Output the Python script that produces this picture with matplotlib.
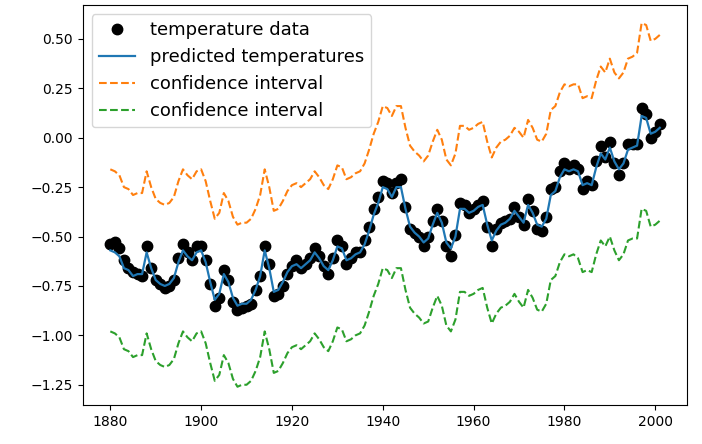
import matplotlib

matplotlib.use("Agg")
import matplotlib.pyplot as plt

years = list(range(1880, 2002))

# observed annual temperatures (black dots)
temperature = [
    -0.54, -0.53, -0.56, -0.62, -0.66, -0.68, -0.69, -0.70, -0.55, -0.66,
    -0.72, -0.74, -0.76, -0.75, -0.72, -0.61, -0.54, -0.58, -0.62, -0.55,
    -0.55, -0.62, -0.74, -0.85, -0.81, -0.67, -0.72, -0.83, -0.87, -0.86,
    -0.85, -0.84, -0.77, -0.70, -0.55, -0.64, -0.80, -0.79, -0.75, -0.69,
    -0.65, -0.62, -0.66, -0.64, -0.61, -0.56, -0.60, -0.65, -0.69, -0.61,
    -0.52, -0.55, -0.64, -0.61, -0.58, -0.58, -0.52, -0.45, -0.36, -0.30,
    -0.22, -0.23, -0.28, -0.23, -0.21, -0.35, -0.46, -0.48, -0.50, -0.55,
    -0.50, -0.42, -0.36, -0.42, -0.55, -0.60, -0.49, -0.33, -0.34, -0.38,
    -0.36, -0.34, -0.32, -0.45, -0.55, -0.46, -0.43, -0.42, -0.41, -0.35,
    -0.40, -0.44, -0.31, -0.37, -0.46, -0.47, -0.40, -0.26, -0.25, -0.17,
    -0.13, -0.16, -0.14, -0.16, -0.26, -0.22, -0.24, -0.12, -0.04, -0.10,
    -0.02, -0.13, -0.19, -0.13, -0.03, -0.03, -0.03, 0.15, 0.12, 0.00,
    0.03, 0.07,
]

# model prediction (blue line)
predicted = [
    -0.57, -0.58, -0.60, -0.66, -0.67, -0.70, -0.69, -0.69, -0.58, -0.66,
    -0.72, -0.74, -0.75, -0.74, -0.71, -0.63, -0.57, -0.60, -0.62, -0.58,
    -0.57, -0.63, -0.73, -0.82, -0.79, -0.69, -0.73, -0.81, -0.85, -0.84,
    -0.84, -0.82, -0.77, -0.70, -0.57, -0.66, -0.78, -0.77, -0.73, -0.68,
    -0.65, -0.64, -0.66, -0.64, -0.62, -0.58, -0.61, -0.65, -0.67, -0.62,
    -0.55, -0.56, -0.62, -0.61, -0.59, -0.58, -0.54, -0.47, -0.39, -0.33,
    -0.25, -0.26, -0.30, -0.25, -0.25, -0.36, -0.45, -0.48, -0.50, -0.53,
    -0.51, -0.44, -0.38, -0.43, -0.53, -0.56, -0.50, -0.36, -0.36, -0.38,
    -0.37, -0.35, -0.34, -0.44, -0.52, -0.47, -0.44, -0.43, -0.41, -0.37,
    -0.40, -0.43, -0.34, -0.38, -0.44, -0.45, -0.41, -0.29, -0.27, -0.20,
    -0.16, -0.17, -0.16, -0.17, -0.24, -0.23, -0.24, -0.15, -0.08, -0.11,
    -0.05, -0.12, -0.16, -0.13, -0.06, -0.05, -0.04, 0.11, 0.10, 0.02,
    0.03, 0.05,
]

# half width of the confidence band around the prediction
ci_halfwidth = [
    0.41, 0.41, 0.41, 0.41, 0.41, 0.41, 0.41, 0.41, 0.41, 0.41,
    0.41, 0.41, 0.41, 0.41, 0.41, 0.41, 0.41, 0.41, 0.41, 0.41,
    0.41, 0.41, 0.41, 0.41, 0.41, 0.41, 0.41, 0.41, 0.41, 0.41,
    0.41, 0.41, 0.41, 0.41, 0.41, 0.41, 0.41, 0.41, 0.41, 0.41,
    0.41, 0.41, 0.41, 0.41, 0.41, 0.41, 0.41, 0.41, 0.41, 0.41,
    0.41, 0.41, 0.41, 0.41, 0.41, 0.41, 0.41, 0.41, 0.41, 0.41,
    0.41, 0.41, 0.41, 0.41, 0.41, 0.41, 0.41, 0.41, 0.41, 0.41,
    0.42, 0.42, 0.42, 0.42, 0.42, 0.42, 0.42, 0.42, 0.42, 0.42,
    0.42, 0.42, 0.42, 0.42, 0.42, 0.42, 0.42, 0.42, 0.42, 0.42,
    0.43, 0.43, 0.43, 0.43, 0.43, 0.43, 0.43, 0.43, 0.43, 0.43,
    0.43, 0.43, 0.43, 0.44, 0.44, 0.44, 0.44, 0.44, 0.44, 0.44,
    0.45, 0.45, 0.46, 0.46, 0.46, 0.46, 0.47, 0.47, 0.47, 0.47,
    0.47, 0.47,
]

upper = [p + h for p, h in zip(predicted, ci_halfwidth)]
lower = [p - h for p, h in zip(predicted, ci_halfwidth)]

fig = plt.figure(figsize=(7.02, 4.44), dpi=100)
ax = fig.add_axes([0.118, 0.088, 0.861, 0.901])

ax.plot(years, temperature, "ko", markersize=7.5, label="temperature data")
ax.plot(years, predicted, linewidth=1.6, label="predicted temperatures")
ax.plot(years, upper, "--", linewidth=1.5, label="confidence interval")
ax.plot(years, lower, "--", linewidth=1.5, label="confidence interval")

ax.legend(loc="upper left", fontsize=13)

fig.savefig("out.png", dpi=100)
plt.close(fig)
